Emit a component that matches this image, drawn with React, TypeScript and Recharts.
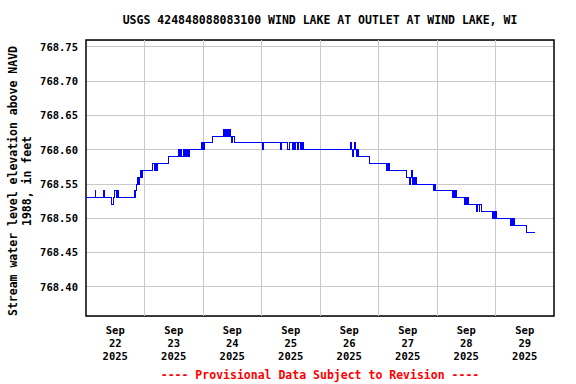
import { LineChart, Line, XAxis, YAxis, CartesianGrid, ReferenceLine, ReferenceArea } from "recharts";

// hours since Sep 22 2025 00:00 where the gage reading changes
const changeHours = [
  0, 3.7, 4.1, 7.0, 7.4, 10.6, 11.1, 11.6, 12.5, 13.0, 13.5, 19.8, 20.2, 20.5, 20.9, 21.3, 21.7, 22.0, 22.5, 22.8, 23.2,
  27.2, 28.2, 28.5, 29.0, 29.4, 34.0, 37.8, 38.2, 38.6, 39.0, 40.0, 40.4, 40.8, 41.2, 41.6, 42.0, 42.4, 47.2, 47.5, 47.8, 48.2, 48.5,
  51.9, 56.3, 56.7, 56.9, 57.3, 57.6, 58.0, 58.3, 58.7, 58.9, 59.3, 59.6, 60.2, 60.8,
  72.4, 72.8, 79.9, 80.3, 82.5, 83.3, 84.6, 85.0, 85.7, 86.1, 86.8, 87.2, 87.9, 88.3, 88.8, 89.1, 89.4,
  108.6, 108.9, 109.3, 109.6, 110.1, 110.4, 110.8, 111.2, 111.6, 116.4,
  123.2, 123.5, 123.8, 124.1, 124.6, 131.4, 132.7, 133.0, 133.5, 133.8, 134.5, 134.9, 135.3, 135.7,
  142.7, 143.1, 143.4, 150.5, 150.9, 151.2, 151.6, 152.0, 155.4, 155.8, 156.2, 156.5, 157.0,
  160.4, 160.8, 161.3, 161.6, 162.1, 166.9, 167.2, 167.6, 168.0, 168.5, 174.1, 174.5, 174.9, 175.4, 175.9, 180.9, 184.0,
];

// gage height, ft above NAVD 1988
const changeLevels = [
  768.53, 768.54, 768.53, 768.54, 768.53, 768.52, 768.53, 768.54, 768.53, 768.54, 768.53, 768.54, 768.53, 768.54, 768.55, 768.56, 768.55, 768.56, 768.57, 768.56, 768.57,
  768.58, 768.57, 768.58, 768.57, 768.58, 768.59, 768.6, 768.59, 768.6, 768.59, 768.6, 768.59, 768.6, 768.59, 768.6, 768.59, 768.6, 768.61, 768.6, 768.61, 768.6, 768.61,
  768.62, 768.63, 768.62, 768.63, 768.62, 768.63, 768.62, 768.63, 768.62, 768.63, 768.62, 768.61, 768.62, 768.61,
  768.6, 768.61, 768.6, 768.61, 768.6, 768.61, 768.6, 768.61, 768.6, 768.61, 768.6, 768.61, 768.6, 768.61, 768.6, 768.61, 768.6,
  768.61, 768.6, 768.59, 768.6, 768.61, 768.6, 768.59, 768.6, 768.59, 768.58,
  768.57, 768.58, 768.57, 768.58, 768.57, 768.56, 768.55, 768.56, 768.57, 768.55, 768.56, 768.55, 768.56, 768.55,
  768.54, 768.55, 768.54, 768.53, 768.54, 768.53, 768.54, 768.53, 768.52, 768.53, 768.52, 768.53, 768.52,
  768.51, 768.52, 768.51, 768.52, 768.51, 768.5, 768.51, 768.5, 768.51, 768.5, 768.49, 768.5, 768.49, 768.5, 768.49, 768.48, 768.48,
];

const yTicks = [768.4, 768.45, 768.5, 768.55, 768.6, 768.65, 768.7, 768.75];
const dayLabels = ["22", "23", "24", "25", "26", "27", "28", "29"];
const labelHours = [12, 36, 60, 84, 108, 132, 156, 180];
const midnightHours = [24, 48, 72, 96, 120, 144, 168];

const X_DOMAIN = [0, 192];
const Y_DOMAIN = [768.3577, 768.7602];

const data = changeHours.map((h, i) => ({ h, level: changeLevels[i] }));

const FONT = "'DejaVu Sans Mono', monospace";

const DateTick = (props: any) => {
  const idx = labelHours.indexOf(props.payload.value);
  return (
    <g transform={`translate(${props.x},316)`}>
      <text textAnchor="middle" fontFamily={FONT} fontWeight="bold" fontSize={10.5} fill="#000">
        <tspan x={0} y={17.5}>Sep</tspan>
        <tspan x={0} y={30.5}>{dayLabels[idx]}</tspan>
        <tspan x={0} y={43.5}>2025</tspan>
      </text>
    </g>
  );
};

export default function App() {
  return (
    <div style={{ position: "absolute", left: 0, top: 0, width: 576, height: 384, background: "#fff" }}>
      <LineChart
        width={576}
        height={384}
        data={data}
        margin={{ top: 40, right: 22, bottom: 8, left: 0 }}
      >
        <CartesianGrid vertical={false} stroke="#c8c8c8" shapeRendering="crispEdges" />
        {midnightHours.map((h) => (
          <ReferenceLine key={h} x={h} stroke="#c8c8c8" shapeRendering="crispEdges" />
        ))}
        <XAxis
          type="number"
          dataKey="h"
          domain={X_DOMAIN}
          ticks={labelHours}
          height={60}
          axisLine={false}
          tickLine={false}
          tick={<DateTick />}
          allowDataOverflow
        />
        <YAxis
          type="number"
          domain={Y_DOMAIN}
          ticks={yTicks}
          width={86}
          axisLine={false}
          tickLine={false}
          tickSize={0}
          tickMargin={8}
          allowDataOverflow
          tickFormatter={(v: number) => v.toFixed(2)}
          tick={{ fontFamily: FONT, fontWeight: "bold", fontSize: 10.5, fill: "#000" }}
        />
        <Line
          type="stepAfter"
          dataKey="level"
          stroke="#0000ff"
          strokeWidth={1}
          dot={false}
          shapeRendering="crispEdges"
          isAnimationActive={false}
        />
        <ReferenceArea
          x1={X_DOMAIN[0]}
          x2={X_DOMAIN[1]}
          y1={Y_DOMAIN[0]}
          y2={Y_DOMAIN[1]}
          fill="none"
          stroke="#000"
          strokeWidth={1.5}
        />
      </LineChart>
      <svg
        width={576}
        height={384}
        style={{ position: "absolute", left: 0, top: 0, pointerEvents: "none" }}
      >
        <text x={320} y={24} textAnchor="middle" fontFamily={FONT} fontWeight="bold" fontSize={11.5} fill="#000">
          USGS 424848088083100 WIND LAKE AT OUTLET AT WIND LAKE, WI
        </text>
        <g fontFamily={FONT} fontWeight="bold" fontSize={11.5} fill="#000" textAnchor="middle">
          <text transform="translate(17,181) rotate(-90)">Stream water level elevation above NAVD</text>
          <text transform="translate(31,181) rotate(-90)">1988, in feet</text>
        </g>
        <text x={320} y={379} textAnchor="middle" fontFamily={FONT} fontWeight="bold" fontSize={11.5} fill="#ff0000">
          ---- Provisional Data Subject to Revision ----
        </text>
      </svg>
    </div>
  );
}
